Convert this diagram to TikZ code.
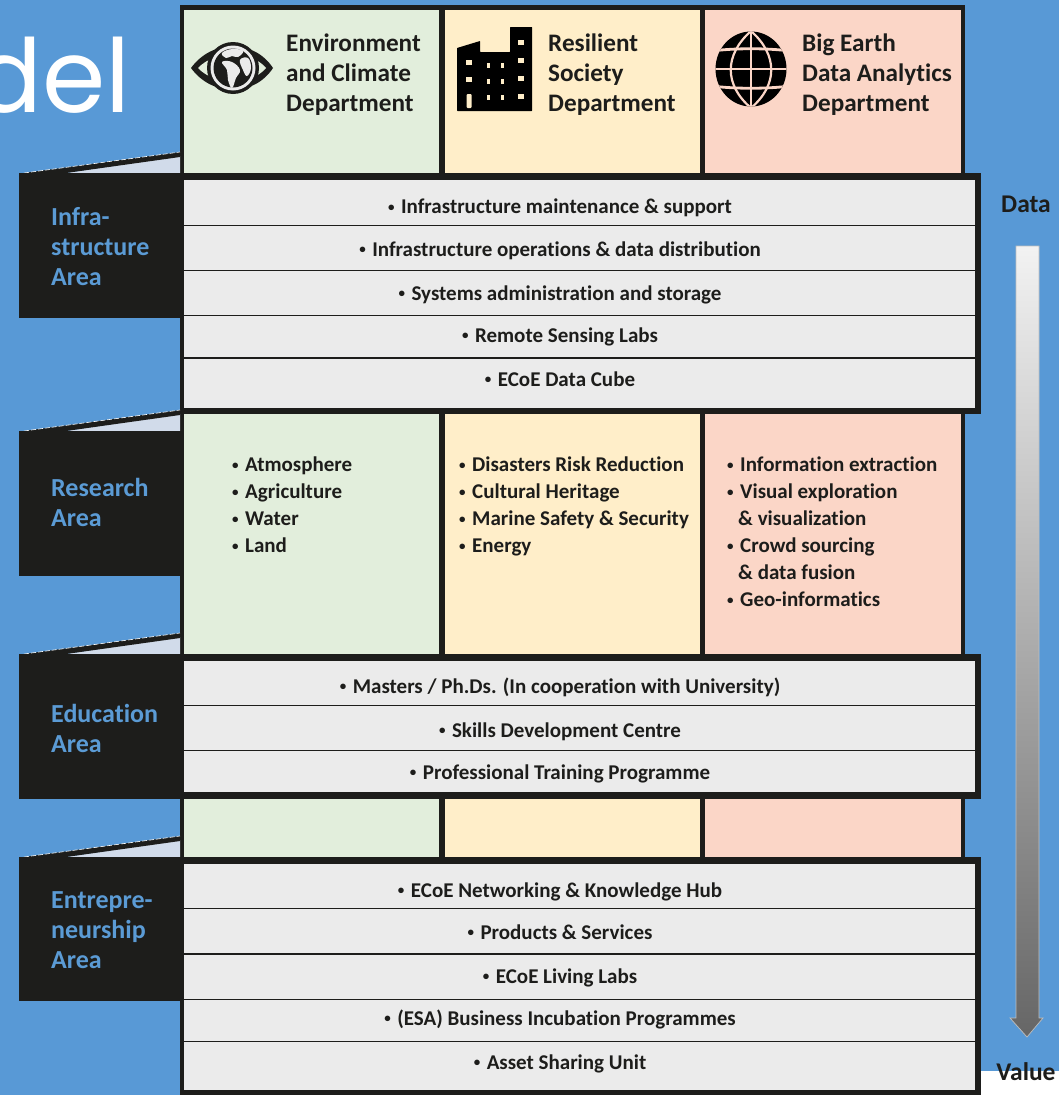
\documentclass[tikz,border=0pt]{standalone}
\usepackage{fontspec}
\setmainfont[Ligatures=NoCommon]{Carlito}
\newfontfamily\titlefont{Poppins}
\usetikzlibrary{positioning}
\definecolor{bgblue}{HTML}{5899D6}
\definecolor{framek}{HTML}{1D1D1B}
\definecolor{envgreen}{HTML}{E2EEDC}
\definecolor{socyellow}{HTML}{FFEEC9}
\definecolor{bigpink}{HTML}{FBD6C7}
\definecolor{rowgrey}{HTML}{EBEBEB}
\definecolor{wedgeblue}{HTML}{D1DBEA}
\definecolor{arealabel}{HTML}{5B9BD5}
\tikzset{
    % Define style for row and department boxes
    rowbox/.style={
           draw=none,
           fill=rowgrey,
           inner sep=0pt},
    cellbox/.style={
           draw=none,
           inner sep=0pt},
    rowtext/.style={
           font=\bfseries\fontsize{21}{24}\selectfont,
           text=framek,
           anchor=base,
           inner sep=0pt},
    % Define style for area names and lists
    areatext/.style={
           font=\bfseries\fontsize{26}{30}\selectfont,
           text=arealabel,
           align=left,
           anchor=north west,
           inner sep=0pt},
    depttext/.style={
           font=\bfseries\fontsize{25.2}{30}\selectfont,
           text=framek,
           align=left,
           anchor=north west,
           inner sep=0pt},
    listtext/.style={
           font=\bfseries\fontsize{21}{27}\selectfont,
           text=framek,
           align=left,
           anchor=north west,
           inner sep=0pt},
    sidetext/.style={
           font=\bfseries\fontsize{25.5}{28}\selectfont,
           text=framek,
           anchor=base,
           inner sep=0pt}
}
% small bullet with a fixed width
\newcommand*{\bul}{\makebox[13pt][l]{\raisebox{2.5pt}{\fontsize{13}{13}\selectfont •}}}
% name, top, bottom, baseline, text
\newcommand*{\greyrow}[5]{\path[rowbox] (184,#2) rectangle (975,#3);
  \node[rowtext] (#1) at (560,#4) {\bul#5};}
% name, top, bottom, left edge, right edge, colour
\newcommand*{\deptcell}[6]{\node[cellbox,fill=#6,minimum width={(#5-#4)*1pt},minimum height={(#3-#2)*1pt},anchor=north west] (#1) at (#4,#2) {};}
% name, bottom of the wedge, bottom of the block, text offset, text
\newcommand*{\areablock}[5]{
  \fill[wedgeblue] (66,#2) -- (180,{#2-17}) -- (180,#2) -- cycle;
  \fill[framek] (24,#2) -- (180,{#2-21}) -- (180,{#2-16}) -- (66,#2) -- cycle;
  \draw[white,line width=.6pt,dash pattern=on 5pt off 2pt] (24,#2) -- (180,{#2-21});
  \fill[framek] (19,#2) rectangle (184,#3);
  \node[areatext] (#1) at (51,{#2+#4}) {#5};}

\begin{document}
\begin{tikzpicture}[x=1pt,y=-1pt]
\useasboundingbox (0,0) rectangle (1059,1095);
\clip (0,0) rectangle (1059,1095);
\fill[bgblue] (0,0) rectangle (1059,1095);
\fill[white] (981,1071) rectangle (1059,1095);
% Title, cut off by the page
\node[font=\titlefont\fontsize{102}{102}\selectfont,text=white,anchor=base west,inner sep=0pt] (title) at (-27,112) {del};

% Black frame behind the three columns
\fill[framek] (180,5) rectangle (965,860);
\deptcell{envT}{10}{173}{184}{439}{envgreen}
\deptcell{socT}{10}{173}{445}{700}{socyellow}
\deptcell{bigT}{10}{173}{705}{961}{bigpink}
\deptcell{envR}{414}{654}{184}{439}{envgreen}
\deptcell{socR}{414}{654}{445}{700}{socyellow}
\deptcell{bigR}{414}{654}{705}{961}{bigpink}
\deptcell{envB}{799}{857}{184}{439}{envgreen}
\deptcell{socB}{799}{857}{445}{700}{socyellow}
\deptcell{bigB}{799}{857}{705}{961}{bigpink}

% Black frames of the grey rows
\fill[framek] (180,173) rectangle (981,414);
\fill[framek] (180,654) rectangle (981,799);
\fill[framek] (180,857) rectangle (981,1095);

% Infrastructure rows
\greyrow{maint}{180}{224.5}{213.5}{Infrastructure maintenance \& support}
\greyrow{oper}{226}{269.5}{256}{Infrastructure operations \& data distribution}
\greyrow{admin}{271}{314.5}{300}{Systems administration and storage}
\greyrow{labs}{316}{357}{342}{Remote Sensing Labs}
\greyrow{cube}{358.5}{408}{386}{ECoE Data Cube}
% Education rows
\greyrow{masters}{661}{704.5}{693}{Masters / Ph.Ds. (In cooperation with University)}
\greyrow{skills}{706}{749.5}{737}{Skills Development Centre}
\greyrow{training}{751}{792}{779}{Professional Training Programme}
% Entrepreneurship rows
\greyrow{hub}{864}{907.5}{897}{ECoE Networking \& Knowledge Hub}
\greyrow{products}{909}{953}{939}{Products \& Services}
\greyrow{living}{954.5}{998.5}{983}{ECoE Living Labs}
\greyrow{incub}{1000}{1040.5}{1025}{(ESA) Business Incubation Programmes}
\greyrow{asset}{1042}{1090}{1069}{Asset Sharing Unit}

% Left hand area labels
\areablock{infra}{173}{318}{34}{Infra-\\structure\\Area}
\areablock{research}{431}{576}{47}{Research\\Area}
\areablock{education}{654}{799}{50}{Education\\Area}
\areablock{entre}{857}{1001}{34}{Entrepre-\\neurship\\Area}

% Department names
\node[depttext] (envN) at (286,33.5) {Environment\\and Climate\\Department};
\node[depttext] (socN) at (548,33.5) {Resilient\\Society\\Department};
\node[depttext] (bigN) at (802,33.5) {Big Earth\\Data Analytics\\Department};

% Research lists
\node[listtext] (envL) at (232,457) {\bul Atmosphere\\\bul Agriculture\\\bul Water\\\bul Land};
\node[listtext] (socL) at (459,457) {\bul Disasters Risk Reduction\\\bul Cultural Heritage\\\bul Marine Safety \& Security\\\bul Energy};
\node[listtext] (bigL) at (727,457) {\bul Information extraction\\\bul Visual exploration\\\hspace*{11pt}\& visualization\\\bul Crowd sourcing\\\hspace*{11pt}\& data fusion\\\bul Geo-informatics};

% Eye icon
\fill[framek] (191,68) .. controls (212,39) and (254,39) .. (273,68) .. controls (254,97) and (212,97) .. (191,68) -- cycle;
\fill[envgreen] (198,68) .. controls (215,50) and (251,50) .. (266,68) .. controls (251,86) and (215,86) .. (198,68) -- cycle;
\fill[framek] (233,68) circle (26);
\fill[white!92!black] (233,68) circle (22.5);
\fill[framek] (233,68) circle (19.5);
\fill[white!92!black] plot[smooth cycle,tension=.7] coordinates {(222,53) (232,49) (243,51) (238,57) (232,56) (226,58)};
\fill[white!92!black] plot[smooth cycle,tension=.7] coordinates {(240,60) (248,58) (251,68) (247,76) (243,70)};
\fill[white!92!black] plot[smooth cycle,tension=.7] coordinates {(222,62) (232,62) (240,70) (236,78) (232,88) (228,80) (227,70)};

% Building icon
\fill[black,rounded corners=.5pt] (457,48) -- (480,41) -- (480,52) -- (510,52) -- (510,27) -- (532,27) -- (532,111) -- (457,111) -- cycle;
\foreach \bx/\by in {469/62,469/79,521/42,521/60,521/78,521/96}
  \fill[socyellow] ({\bx-3},{\by-2.5}) rectangle ({\bx+3},{\by+2.5});
\foreach \bx/\by in {488/65,502/65,488/81,502/81,488/97,502/97}
  \fill[socyellow] ({\bx-1.5},{\by-2.5}) rectangle ({\bx+1.5},{\by+2.5});
\fill[socyellow,rounded corners=1pt] (466.5,108) rectangle (471.5,94);

% Globe icon
\begin{scope}
\clip (751,69) ellipse (35.5 and 37.5);
\fill[black] (714,30) rectangle (788,108);
\draw[bigpink,line width=2.2pt] (751,30) -- (751,108);
\draw[bigpink,line width=2.2pt] (751,31) .. controls (724,55) and (724,85) .. (751,108);
\draw[bigpink,line width=2.2pt] (751,31) .. controls (778,55) and (778,85) .. (751,108);
\draw[bigpink,line width=2.2pt] (712,69) -- (790,69);
\draw[bigpink,line width=2.8pt] (712,51) .. controls (735,48) and (767,48) .. (790,51);
\draw[bigpink,line width=2.8pt] (712,86) .. controls (735,89) and (767,89) .. (790,86);
\end{scope}

% Data to value arrow
\node[sidetext] (data) at (1026,212) {Data};
\node[sidetext] (value) at (1026,1080) {Value};
\shade[top color=white!95!black,bottom color=black!60,draw=black!25,line width=.7pt] (1016,246) -- (1039,246) -- (1039,1018) -- (1043,1018) -- (1027,1037) -- (1010,1018) -- (1016,1018) -- cycle;
\end{tikzpicture}
\end{document}
